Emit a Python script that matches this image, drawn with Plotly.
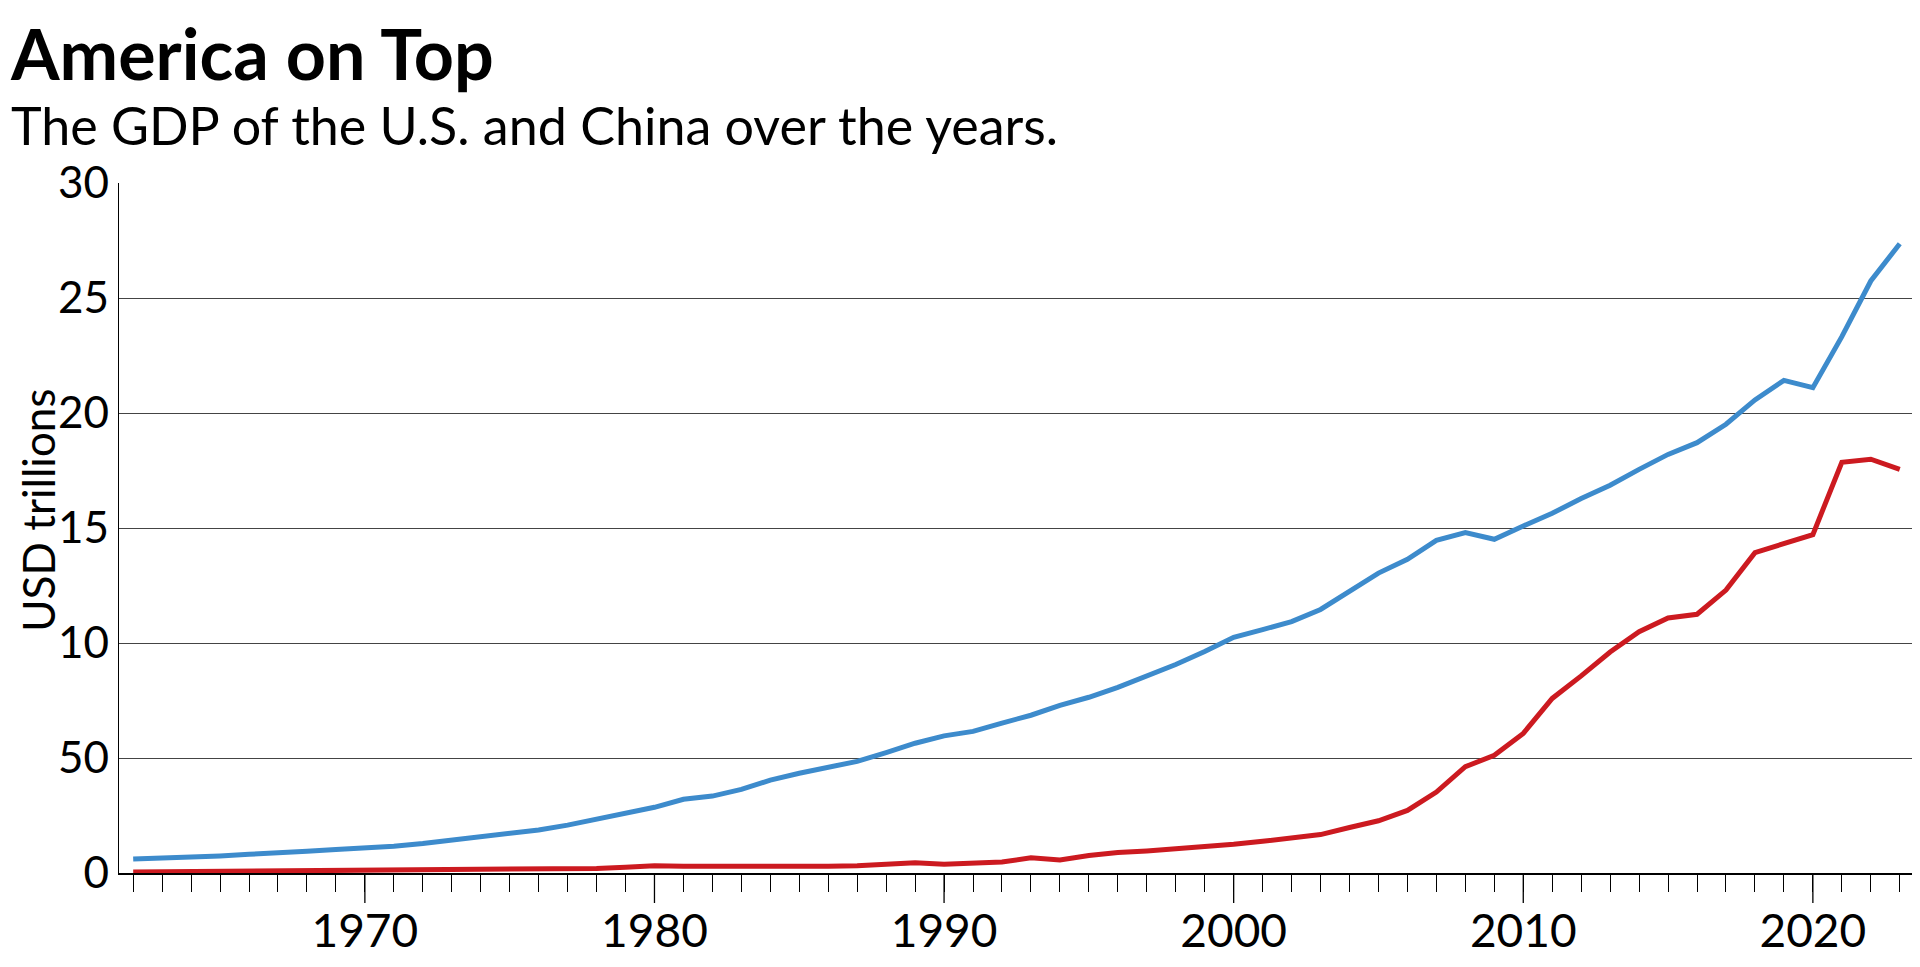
import plotly.graph_objects as go

years = list(range(1962, 2024))

usa_gdp = [
    0.605, 0.638, 0.686, 0.744, 0.815, 0.862, 0.943, 1.019, 1.073, 1.165,
    1.280, 1.425, 1.545, 1.684, 1.873, 2.082, 2.352, 2.627, 2.857, 3.207,
    3.343, 3.634, 4.037, 4.339, 4.580, 4.855, 5.236, 5.642, 5.963, 6.158,
    6.520, 6.859, 7.287, 7.640, 8.073, 8.578, 9.063, 9.631, 10.251, 10.582,
    10.929, 11.457, 12.217, 13.039, 13.64, 14.46, 14.80, 14.51, 15.09, 15.64,
    16.28, 16.86, 17.55, 18.20, 18.71, 19.51, 20.57, 21.42, 21.10, 23.32,
    25.74, 27.36,
]

china_gdp = [
    0.04, 0.05, 0.06, 0.07, 0.075, 0.072, 0.07, 0.079, 0.09, 0.10,
    0.11, 0.135, 0.145, 0.16, 0.155, 0.17, 0.20, 0.25, 0.31, 0.29,
    0.28, 0.30, 0.30, 0.30, 0.29, 0.32, 0.40, 0.45, 0.38, 0.41,
    0.48, 0.66, 0.57, 0.76, 0.89, 0.96, 1.05, 1.12, 1.25, 1.38,
    1.53, 1.67, 1.98, 2.27, 2.72, 3.52, 4.62, 5.12, 6.07, 7.59,
    8.57, 9.61, 10.49, 11.09, 11.25, 12.30, 13.93, 14.32, 14.71, 17.86,
    17.99, 17.55,
]

y_tickvals = [0, 5, 10, 15, 20, 25, 30]
y_ticktext = ["0", "50", "10", "15", "20", "25", "30"]

x_tickvals = [1970, 1980, 1990, 2000, 2010, 2020]

title_text = "America on Top"
subtitle_text = "The GDP of the U.S. and China over the years."
y_title = "USD trillions"

FONT = "Lato"
BLUE = "#3d8bcc"
RED = "#cc1a20"

# plot area (figure pixels)
L, T, PLOT_BOTTOM, PLOT_RIGHT = 111, 175, 865, 1910
W, H = 1920, 967
PLOT_H = PLOT_BOTTOM - T

fig = go.Figure()
fig.add_trace(go.Scatter(x=years, y=usa_gdp, mode="lines", name="U.S.",
                         line=dict(color=BLUE, width=5)))
fig.add_trace(go.Scatter(x=years, y=china_gdp, mode="lines", name="China",
                         line=dict(color=RED, width=5)))

fig.update_layout(
    width=W, height=H,
    margin=dict(l=L, r=W - PLOT_RIGHT, t=T, b=H - PLOT_BOTTOM, autoexpand=False),
    paper_bgcolor="white", plot_bgcolor="white",
    showlegend=False,
    font=dict(family=FONT, color="black"),
)

fig.update_xaxes(
    range=[1961.51, 2023.63],
    tickmode="array", tickvals=x_tickvals,
    ticks="outside", ticklen=17, tickwidth=1.3, tickcolor="black",
    showline=True, linecolor="black", linewidth=2.2,
    showgrid=False, zeroline=False, automargin=False,
    tickfont=dict(size=46, family=FONT, color="black"),
    minor=dict(dtick=1, tick0=1962, ticks="outside", ticklen=17,
               tickwidth=1.3, tickcolor="black", showgrid=False),
)

# longer decade ticks
for xv in x_tickvals:
    fig.add_shape(type="line", xref="x", yref="paper",
                  x0=xv, x1=xv, y0=0, y1=-30 / PLOT_H,
                  line=dict(color="black", width=1.3), layer="above")

fig.update_yaxes(
    range=[0, 30],
    tickmode="array", tickvals=y_tickvals, ticktext=y_ticktext,
    ticks="", ticklabelstandoff=0,
    showline=True, linecolor="black", linewidth=1.2,
    showgrid=True, gridcolor="#444", gridwidth=1,
    zeroline=False, automargin=False,
    tickfont=dict(size=44, family=FONT, color="black"),
)

heading = (f"<b><span style='font-size:70px'>{title_text}</span></b><br>"
           f"<span style='font-size:52px'>{subtitle_text}</span>")
fig.add_annotation(text=heading, xref="paper", yref="paper", align="left",
                   x=0, xshift=-L, y=1, yshift=T - 1, xanchor="left", yanchor="top",
                   showarrow=False, font=dict(size=50, family=FONT, color="black"))
fig.add_annotation(text=y_title, xref="paper", yref="paper",
                   x=0, xshift=-L + 30, y=0.525, xanchor="center", yanchor="middle",
                   textangle=-90, showarrow=False,
                   font=dict(size=44, family=FONT, color="black"))

fig.write_html("out.html")
